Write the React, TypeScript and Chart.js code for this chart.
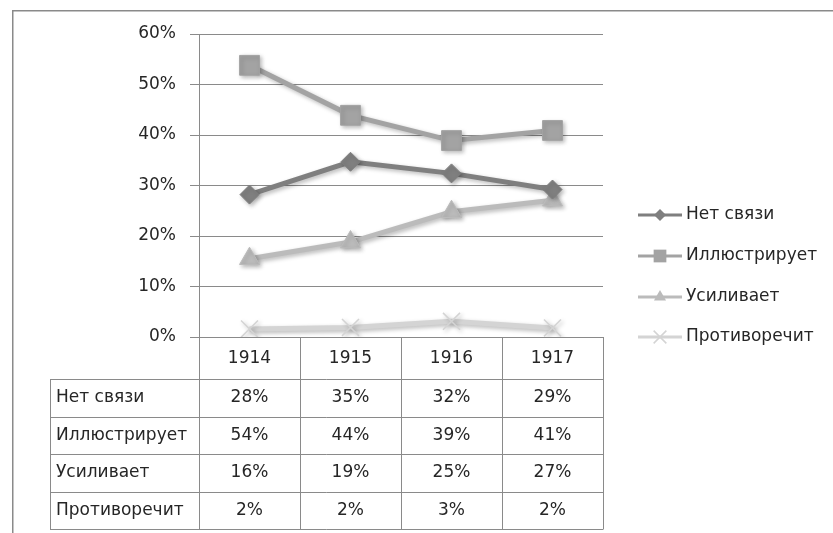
import React, { useEffect, useRef } from "react";
import { Chart, registerables } from "chart.js";

Chart.register(...registerables);

const categories = ["1914", "1915", "1916", "1917"];
const seriesNames = ["Нет связи", "Иллюстрирует", "Усиливает", "Противоречит"];
const noLink = [28.2, 34.7, 32.4, 29.2];
const illustrates = [53.8, 43.9, 38.9, 40.9];
const strengthens = [15.5, 18.8, 24.8, 27.1];
const contradicts = [1.6, 1.9, 3.1, 1.8];
const tableNoLink = ["28%", "35%", "32%", "29%"];
const tableIllustrates = ["54%", "44%", "39%", "41%"];
const tableStrengthens = ["16%", "19%", "25%", "27%"];
const tableContradicts = ["2%", "2%", "3%", "2%"];

const seriesColors = ["#7f7f7f", "#a3a3a3", "#bbbbbb", "#d4d4d4"];
const seriesStyles = ["rectRot", "rect", "triangle", "crossRot"];
const seriesRadius = [9.5, 14, 11.5, 12];
const legendRadius = [6, 9, 7, 9];

const FONT = '"DejaVu Sans", sans-serif';
const FONT_SIZE = 17;
const LINE_COLOR = "#8a8a8a";
const TEXT_COLOR = "#262626";

function drawMarker(ctx: CanvasRenderingContext2D, style: string, x: number, y: number, r: number, color: string) {
  ctx.save();
  ctx.fillStyle = color;
  ctx.strokeStyle = color;
  ctx.beginPath();
  if (style === "rectRot") {
    ctx.moveTo(x, y - r);
    ctx.lineTo(x + r, y);
    ctx.lineTo(x, y + r);
    ctx.lineTo(x - r, y);
    ctx.closePath();
    ctx.fill();
  } else if (style === "rect") {
    const s = Math.SQRT1_2 * r;
    ctx.rect(x - s, y - s, 2 * s, 2 * s);
    ctx.fill();
  } else if (style === "triangle") {
    ctx.moveTo(x, y - r);
    ctx.lineTo(x + r * 0.866, y + r * 0.5);
    ctx.lineTo(x - r * 0.866, y + r * 0.5);
    ctx.closePath();
    ctx.fill();
  } else {
    const d = Math.SQRT1_2 * r;
    ctx.lineWidth = 1.5;
    ctx.moveTo(x - d, y - d);
    ctx.lineTo(x + d, y + d);
    ctx.moveTo(x + d, y - d);
    ctx.lineTo(x - d, y + d);
    ctx.stroke();
  }
  ctx.restore();
}

const shadowPlugin = {
  id: "shadowPlugin",
  beforeDatasetsDraw(chart: any) {
    const ctx = chart.ctx;
    ctx.save();
    ctx.shadowColor = "rgba(0,0,0,0.28)";
    ctx.shadowBlur = 4;
    ctx.shadowOffsetX = 2;
    ctx.shadowOffsetY = 2;
  },
  afterDatasetsDraw(chart: any) {
    chart.ctx.restore();
  },
};

const framePlugin = {
  id: "framePlugin",
  beforeDraw(chart: any) {
    const ctx = chart.ctx;
    ctx.save();
    ctx.fillStyle = "#ffffff";
    ctx.fillRect(0, 0, chart.width, chart.height);
    ctx.strokeStyle = LINE_COLOR;
    ctx.lineWidth = 1.5;
    ctx.beginPath();
    ctx.moveTo(12.75, chart.height);
    ctx.lineTo(12.75, 10.75);
    ctx.lineTo(chart.width, 10.75);
    ctx.stroke();
    ctx.restore();
  },
};

const tablePlugin = {
  id: "tablePlugin",
  afterDraw(chart: any) {
    const ctx = chart.ctx;
    const area = chart.chartArea;
    const xScale = chart.scales.x;
    const n = categories.length;
    const colW = (area.right - area.left) / n;
    const tableLeft = 50;
    const headerTop = area.bottom;
    const headerBottom = area.bottom + 42;
    const rowH = 37.5;
    const rows = [tableNoLink, tableIllustrates, tableStrengthens, tableContradicts];
    const tableBottom = headerBottom + rowH * rows.length;

    ctx.save();
    ctx.strokeStyle = LINE_COLOR;
    ctx.lineWidth = 1;
    ctx.beginPath();
    for (let i = 0; i <= n; i++) {
      const x = Math.round(area.left + i * colW) + 0.5;
      ctx.moveTo(x, headerTop);
      ctx.lineTo(x, tableBottom);
    }
    ctx.moveTo(tableLeft + 0.5, headerBottom);
    ctx.lineTo(tableLeft + 0.5, tableBottom);
    for (let r = 0; r <= rows.length; r++) {
      const y = Math.round(headerBottom + r * rowH) + 0.5;
      ctx.moveTo(tableLeft, y);
      ctx.lineTo(area.right + 0.5, y);
    }
    ctx.stroke();

    ctx.fillStyle = TEXT_COLOR;
    ctx.font = `${FONT_SIZE}px ${FONT}`;
    ctx.textBaseline = "middle";
    ctx.textAlign = "center";
    categories.forEach((c, i) => {
      ctx.fillText(c, xScale.getPixelForValue(i), (headerTop + headerBottom) / 2 + 1);
    });
    rows.forEach((row, r) => {
      const cy = headerBottom + r * rowH + rowH / 2;
      ctx.textAlign = "left";
      ctx.fillText(seriesNames[r], tableLeft + 6, cy);
      ctx.textAlign = "center";
      row.forEach((v, i) => {
        ctx.fillText(v, xScale.getPixelForValue(i), cy);
      });
    });

    const legendX = 638;
    const legendYs = [215, 256, 297, 337];
    seriesNames.forEach((name, i) => {
      const y = legendYs[i];
      ctx.strokeStyle = seriesColors[i];
      ctx.lineWidth = 3;
      ctx.beginPath();
      ctx.moveTo(legendX, y);
      ctx.lineTo(legendX + 44, y);
      ctx.stroke();
      drawMarker(ctx, seriesStyles[i], legendX + 22, y, legendRadius[i], seriesColors[i]);
      ctx.fillStyle = TEXT_COLOR;
      ctx.textAlign = "left";
      ctx.fillText(name, legendX + 48, y);
    });
    ctx.restore();
  },
};

export default function App() {
  const canvasRef = useRef<HTMLCanvasElement | null>(null);

  useEffect(() => {
    if (!canvasRef.current) return;
    const allSeries = [noLink, illustrates, strengthens, contradicts];
    const chart = new Chart(canvasRef.current, {
      type: "line",
      data: {
        labels: categories,
        datasets: allSeries.map((d, i) => ({
          label: seriesNames[i],
          data: d,
          borderColor: seriesColors[i],
          backgroundColor: seriesColors[i],
          borderWidth: 5,
          pointStyle: seriesStyles[i] as any,
          pointRadius: seriesRadius[i],
          pointBorderWidth: i === 3 ? 1.5 : 1,
          pointBorderColor: seriesColors[i],
          pointBackgroundColor: seriesColors[i],
          tension: 0,
          fill: false,
        })),
      },
      options: {
        animation: false,
        responsive: false,
        maintainAspectRatio: false,
        layout: { padding: { left: 0, top: 34, right: 230, bottom: 196 } },
        plugins: {
          legend: { display: false },
          tooltip: { enabled: false },
        },
        scales: {
          x: {
            type: "category",
            display: false,
            offset: true,
          },
          y: {
            min: 0,
            max: 60,
            ticks: {
              stepSize: 10,
              callback: (v: any) => `${v}%`,
              color: TEXT_COLOR,
              font: { family: FONT, size: FONT_SIZE },
              padding: 14,
            },
            grid: {
              color: LINE_COLOR,
              lineWidth: 1,
              tickLength: 9,
              drawTicks: true,
            },
            border: { display: true, color: LINE_COLOR, width: 1 },
            afterFit: (scale: any) => {
              scale.width = 199;
            },
          },
        },
      },
      plugins: [framePlugin, shadowPlugin, tablePlugin],
    });
    return () => chart.destroy();
  }, []);

  return (
    <div style={{ position: "absolute", left: 0, top: 0, width: 833, height: 533, background: "#fff" }}>
      <canvas ref={canvasRef} width={833} height={533} style={{ display: "block" }} />
    </div>
  );
}
